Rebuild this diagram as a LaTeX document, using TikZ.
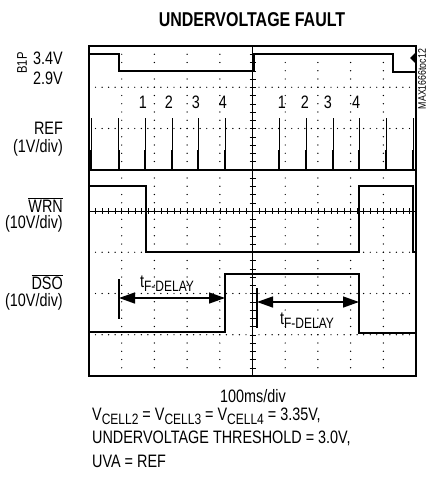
\documentclass[tikz,border=0pt]{standalone}
\usepackage{fontspec}
\setmainfont[FakeStretch=0.8]{Liberation Sans}
\usetikzlibrary{arrows.meta}
\usetikzlibrary{calc}
\usetikzlibrary{positioning}

\newcommand{\lowtext}[1]{\raisebox{-0.4ex}{\fontsize{15}{15}\selectfont #1}}

\tikzset{
  trace/.style={line width=1.6pt, line join=miter},
  gridtick/.style={line width=0.5pt},
  scalelabel/.style={anchor=east, inner sep=0pt, font=\fontsize{18}{20}\selectfont},
  notetext/.style={anchor=west, inner sep=0pt, font=\fontsize{18}{20}\selectfont},
  delayline/.style={line width=1.4pt,
    {Triangle[length=16pt,width=11pt]}-{Triangle[length=16pt,width=11pt]}},
}

\begin{document}
\begin{tikzpicture}[x=1pt, y=-1pt]
    \useasboundingbox (0,0) rectangle (428,479);

    % graticule
    \foreach \i in {1,2,3,4,6,7,8,9}
      \foreach \k in {0,...,40}
        \fill ({89+32.7*\i}, {46+8.25*\k}) circle (0.7);
    \foreach \j in {1,2,3,5,6,7}
      \foreach \k in {0,...,50}
        \fill ({89+6.54*\k}, {46+41.25*\j}) circle (0.7);

    \draw [gridtick] (89,211) -- (416,211);
    \foreach \k in {0,...,50}
      \draw [gridtick] ({89+6.54*\k},208) -- ++(0,6);
    \draw [gridtick] (252.5,46) -- (252.5,376);
    \foreach \k in {0,...,40}
      \draw [gridtick] (249.5,{46+8.25*\k}) -- ++(6,0);

    \draw [line width=2.2pt] (89,46) rectangle (416,376);

    % traces
    \draw [trace] (89,54) -- (119,54) -- (119,71) -- (254,71)
    -- (254,54) -- (393,54) -- (393,72) -- (416,72);
    \fill (416,52) -- (416,64) -- (410,58) -- cycle;

    \draw [trace] (89,170) -- (416,170);
    \foreach \s in {91,118.5,145,172,198,225,279,306,333,359,386,413} {
      \draw [line width=1pt] (\s,170) -- (\s,118);
      \draw [line width=2pt] (\s,170) -- (\s,150);
    }

    \draw [trace] (89,186) -- (146,186) -- (146,252) -- (359,252)
    -- (359,186) -- (413,186) -- (413,252) -- (416,252);

    \draw [trace] (89,332) -- (225,332) -- (225,274) -- (359,274)
    -- (359,333) -- (416,333);

    % delay markers
    \coordinate (dlyAstart) at (119,298);
    \coordinate (dlyAend) at (225,298);
    \coordinate (dlyBstart) at (257,302);
    \coordinate (dlyBend) at (359,302);
    \draw [line width=1.2pt] ($(dlyAstart)+(0,-19)$) -- ($(dlyAstart)+(0,21)$);
    \draw [line width=1.2pt] ($(dlyBstart)+(0,-14)$) -- ($(dlyBstart)+(0,26)$);
    \draw [delayline] (dlyAstart) -- (dlyAend);
    \draw [delayline] (dlyBstart) -- (dlyBend);
    \node [font=\fontsize{18}{20}\selectfont] (dlyAlabel) at (167,284) {t\lowtext{F-DELAY}};
    \node [font=\fontsize{18}{20}\selectfont] (dlyBlabel) at (307,321) {t\lowtext{F-DELAY}};

    % cell numbers
    \foreach \x/\n in {143/1,169/2,196/3,223/4}
      \node [font=\fontsize{18}{20}\selectfont] (cellL\n) at (\x,102) {\n};
    \foreach \x/\n in {282/1,305/2,328/3,356/4}
      \node [font=\fontsize{18}{20}\selectfont] (cellR\n) at (\x,102) {\n};

    % channel labels
    \node [font=\bfseries\fontsize{20}{22}\selectfont] (title) at (252,20) {UNDERVOLTAGE FAULT};
    \node [rotate=90, inner sep=0pt, font=\fontsize{14}{14}\selectfont] (b1p) at (22,63) {B1P};
    \node [scalelabel] (hiB1P) at (63,58) {3.4V};
    \node [scalelabel] (loB1P) at (63,78) {2.9V};
    \node [scalelabel] (refname) at (63,128) {REF};
    \node [scalelabel] (refdiv) at (63,148) {(1V/div)};
    \node [scalelabel] (wrnname) at (63,205) {$\overline{\mbox{WRN}}$};
    \node [scalelabel] (wrndiv) at (63,224) {(10V/div)};
    \node [scalelabel] (dsoname) at (63,282) {$\overline{\mbox{DSO}}$};
    \node [scalelabel] (dsodiv) at (63,302) {(10V/div)};
    \node [rotate=90, inner sep=0pt, font=\fontsize{11}{11}\selectfont] (figtag) at (422,79) {MAX1666toc12};

    % conditions
    \node [font=\fontsize{18}{20}\selectfont] (timebase) at (253,396) {100ms/div};
    \node [notetext] (cells) at (92,416)
    {V\lowtext{CELL2} = V\lowtext{CELL3} = V\lowtext{CELL4} = 3.35V,};
    \node [notetext] (thresh) at (92,438) {UNDERVOLTAGE THRESHOLD = 3.0V,};
    \node [notetext] (uva) at (92,461) {UVA = REF};

  \end{tikzpicture}
\end{document}
